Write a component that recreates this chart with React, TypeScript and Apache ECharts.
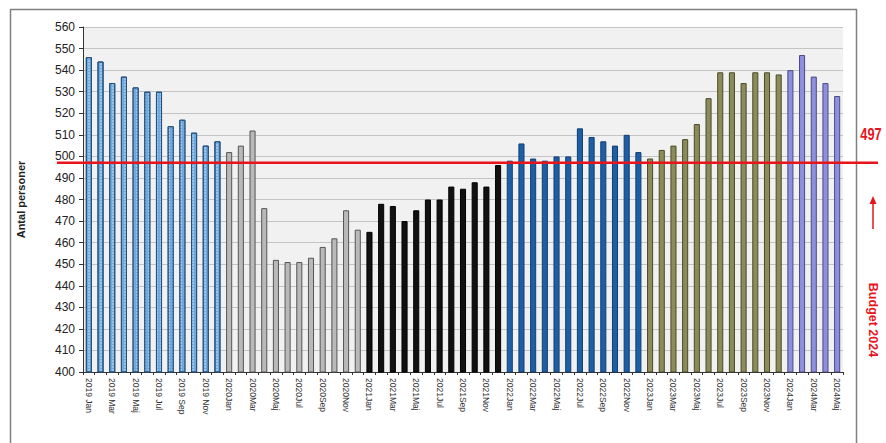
import React, { useEffect, useRef } from "react";
import * as echarts from "echarts";

const months = ["Jan", "Feb", "Mar", "Apr", "Maj", "Jun", "Jul", "Aug", "Sep", "Okt", "Nov", "Dec"];
const years = ["2019", "2020", "2021", "2022", "2023", "2024"];
const values2019 = [546, 544, 534, 537, 532, 530, 530, 514, 517, 511, 505, 507];
const values2020 = [502, 505, 512, 476, 452, 451, 451, 453, 458, 462, 475, 466];
const values2021 = [465, 478, 477, 470, 475, 480, 480, 486, 485, 488, 486, 496];
const values2022 = [498, 506, 499, 498, 500, 500, 513, 509, 507, 505, 510, 502];
const values2023 = [499, 503, 505, 508, 515, 527, 539, 539, 534, 539, 539, 538];
const values2024 = [540, 547, 537, 534, 528];
const yearValues = [values2019, values2020, values2021, values2022, values2023, values2024];
const yearColors = ["#6fa9dd", "#b9b9b9", "#111111", "#1d5fa6", "#8c8b5a", "#8f8fe0"];
const yearBorders = ["#24507e", "#555555", "#000000", "#123e70", "#4a4a2a", "#4a4a80"];
const budget = 497;
const budgetLabel = "497";
const budgetText = "Budget 2024";
const yTitle = "Antal personer";

export default function App() {
  const ref = useRef<HTMLDivElement>(null);
  useEffect(() => {
    if (!ref.current) return;
    const chart = echarts.init(ref.current, null, { renderer: "svg" });
    const categories: string[] = [];
    const data: any[] = [];
    years.forEach((y, yi) => {
      yearValues[yi].forEach((v, mi) => {
        categories.push(y === "2019" ? `${y} ${months[mi]}` : `${y}${months[mi]}`);
        const item: any = {
          value: v,
          itemStyle: {
            color: yearColors[yi],
            borderColor: yearBorders[yi],
            borderWidth: 1,
          },
        };
        if (yi === 0) {
          item.itemStyle.decal = {
            symbol: "circle",
            symbolSize: 0.7,
            dashArrayX: [[2, 2]],
            dashArrayY: [2, 1],
            color: "rgba(255,255,255,0.75)",
          };
        }
        data.push(item);
      });
    });
    chart.setOption({
      animation: false,
      backgroundColor: "#ffffff",
      grid: {
        left: 83,
        right: 43,
        top: 27,
        bottom: 71,
        show: true,
        backgroundColor: "#f1f1f1",
        borderWidth: 0,
      },
      xAxis: {
        type: "category",
        data: categories,
        axisLine: { lineStyle: { color: "#333", width: 1 } },
        axisTick: { show: true, interval: 0, length: 3, lineStyle: { color: "#333" } },
        axisLabel: {
          interval: 1,
          rotate: -90,
          fontSize: 8.5,
          color: "#333",
          fontFamily: "Liberation Sans",
          margin: 6,
        },
      },
      yAxis: {
        type: "value",
        min: 400,
        max: 560,
        interval: 10,
        name: yTitle,
        nameLocation: "middle",
        nameGap: 57,
        nameTextStyle: { fontSize: 11, fontWeight: "bold", color: "#222", fontFamily: "Liberation Sans" },
        axisLine: { show: true, lineStyle: { color: "#333", width: 1 } },
        axisTick: { show: true, length: 4, lineStyle: { color: "#333" } },
        axisLabel: { fontSize: 12, color: "#222", fontFamily: "Liberation Sans", margin: 8 },
        splitLine: { lineStyle: { color: "#c4c4c4", width: 1 } },
      },
      series: [
        {
          type: "bar",
          data,
          barWidth: "52%",
        },
      ],
    });
    const yPix = chart.convertToPixel({ yAxisIndex: 0 }, budget) as number;
    chart.setOption({
      graphic: [
        {
          type: "rect",
          shape: { x: 10.5, y: 9.5, width: 846, height: 445 },
          style: { fill: "none", stroke: "#808080", lineWidth: 1.5 },
          silent: true,
        },
        {
          type: "line",
          shape: { x1: 57, y1: yPix, x2: 878, y2: yPix },
          style: { stroke: "#e8141b", lineWidth: 2.5 },
          z: 100,
        },
        {
          type: "text",
          x: 871,
          y: yPix - 28,
          scaleX: 0.8,
          style: {
            text: budgetLabel,
            fill: "#e8141b",
            fontSize: 16,
            fontWeight: "bold",
            fontFamily: "Liberation Sans",
            align: "center",
            verticalAlign: "middle",
          },
          z: 100,
        },
        {
          type: "line",
          shape: { x1: 873, y1: 229, x2: 873, y2: 202 },
          style: { stroke: "#e8141b", lineWidth: 1.5 },
          z: 100,
        },
        {
          type: "polygon",
          shape: { points: [[869.5, 204], [873, 196], [876.5, 204]] },
          style: { fill: "#e8141b" },
          z: 100,
        },
        {
          type: "text",
          x: 873,
          y: 320,
          rotation: -Math.PI / 2,
          style: {
            text: budgetText,
            fill: "#e8141b",
            fontSize: 12.5,
            fontWeight: "bold",
            fontFamily: "Liberation Sans",
            align: "center",
            verticalAlign: "middle",
          },
          z: 100,
        },
      ],
    });
    return () => chart.dispose();
  }, []);
  return <div ref={ref} style={{ position: "absolute", left: 0, top: 0, width: 886, height: 443 }} />;
}
